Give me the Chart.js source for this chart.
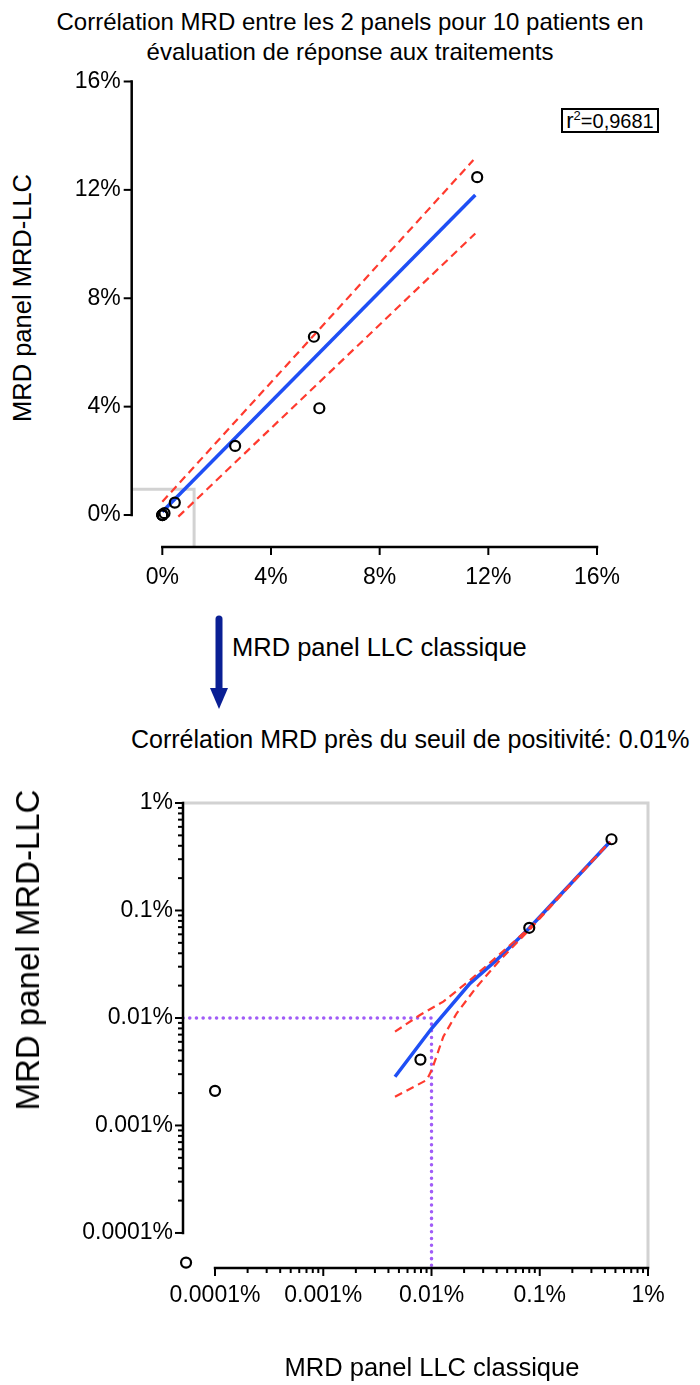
<!DOCTYPE html>
<html>
<head>
<meta charset="utf-8">
<script src="https://cdn.jsdelivr.net/npm/chart.js@4.4.1/dist/chart.umd.min.js"></script>
<style>
  body { margin: 0; background: #fff; width: 700px; height: 1385px; position: relative; overflow: hidden;
         font-family: "Liberation Sans", Arial, Helvetica, sans-serif; color: #000; }
  canvas { position: absolute; left: 0; }
  .txt { position: absolute; white-space: nowrap; }
  .vtitle { position: absolute; white-space: nowrap; font-size: 25.5px; transform: translate(-50%, -50%) rotate(-90deg); }
  #r2 { position: absolute; left: 561px; top: 108px; width: 98px; height: 25px; box-sizing: border-box;
        border: 2px solid #000; font-size: 20px; line-height: 21px; text-align: center; }
  #r2 .r { font-size: 22px; }
  #r2 sup { font-size: 13px; vertical-align: 8px; line-height: 0; }
</style>
</head>
<body>

<div class="txt" style="left:0;width:700px;top:7px;text-align:center;font-size:24px;line-height:30px">
  Corrélation MRD entre les 2 panels pour 10 patients en<br>évaluation de réponse aux traitements
</div>
<div class="vtitle" style="left:22px;top:298px">MRD panel MRD-LLC</div>
<div id="r2"><span class="r">r</span><sup>2</sup>=0,9681</div>

<canvas id="linChart" width="700" height="600" style="top:0"></canvas>

<svg class="txt" style="left:200px;top:610px" width="40" height="105">
  <line x1="19" y1="9" x2="19" y2="82" stroke="#0a1f94" stroke-width="7" stroke-linecap="round"/>
  <polygon points="10,78 28,78 19,99" fill="#0a1f94"/>
</svg>
<div class="txt" style="left:232px;top:632px;font-size:25.5px;line-height:30px">MRD panel LLC classique</div>
<div class="txt" style="left:131px;top:724px;font-size:25px;line-height:30px">Corrélation MRD près du seuil de positivité: 0.01%</div>

<canvas id="logChart" width="700" height="625" style="top:760px"></canvas>
<div class="vtitle" style="left:28px;top:950px;font-size:33px">MRD panel MRD-LLC</div>
<div class="txt" style="left:432px;top:1352px;font-size:25.5px;line-height:30px;transform:translateX(-50%)">MRD panel LLC classique</div>

<script>
// MRD (%) per patient, classic LLC panel (x) vs MRD-LLC panel (y)
const llcClassique = [11.59, 5.58, 5.78, 2.68, 0.46, 0.080, 0.0079, 0.0001, 0.000054, 0];
const llcMrd       = [12.47, 6.58, 3.94, 2.55, 0.46, 0.069, 0.0041, 0.0021, 0.000053, 0];

// linear regression + 95% band, linear panel
const fitX = [0, 11.52];
const fitY = [0.12, 11.81];
const bandHiX = [0, 11.45];
const bandHiY = [0.49, 13.1];
const bandLoX = [0.59, 11.52];
const bandLoY = [-0.06, 10.39];

// low-range fit and band on the log panel
const fitLogX = [0.0046, 0.01005, 0.0227, 0.040, 0.0802, 0.446];
const fitLogY = [0.00284, 0.00802, 0.0210, 0.0347, 0.0687, 0.436];
const bandLogHiX = [0.0046, 0.00783, 0.01285, 0.0227, 0.0372, 0.0802, 0.446];
const bandLogHiY = [0.00746, 0.01066, 0.01419, 0.02254, 0.0347, 0.0687, 0.436];
const bandLogLoX = [0.0046, 0.00904, 0.01005, 0.01285, 0.0171, 0.0262, 0.043, 0.0802, 0.446];
const bandLogLoY = [0.00185, 0.00265, 0.00328, 0.0067, 0.01106, 0.01954, 0.0347, 0.066, 0.436];

const positivityCut = 0.01;

const linTicks = [0, 4, 8, 12, 16];
const linTickLabels = ["0%", "4%", "8%", "12%", "16%"];
const logTicks = [0.0001, 0.001, 0.01, 0.1, 1];
const logTickLabels = ["0.0001%", "0.001%", "0.01%", "0.1%", "1%"];

// axis ranges (the axes are offset from the plot, Prism style)
const linXMin = -1.127, linYMin = -1.18, linMax = 16;
const logXMin = 5.06e-5, logYMin = 4.72e-5, logMax = 1;
const zoomCorner = [1.17, 0.95];

const BLUE = "#1f4ff5";
const RED = "#ff3a2e";
const FONT = "'Liberation Sans', Arial, Helvetica, sans-serif";

const pts = (xs, ys) => xs.map((x, i) => ({ x: x, y: ys[i] }));

const minorLog = [];
for (let d = 0.0001; d < 0.99; d *= 10) {
  for (let m = 2; m <= 9; m++) minorLog.push(d * m);
}

// draws the detached axis lines and their tick marks
const offsetAxes = {
  id: "offsetAxes",
  afterDatasetsDraw(chart, args, opts) {
    const { ctx, chartArea } = chart;
    const x = chart.scales.x, y = chart.scales.y;
    const left = chartArea.left, bottom = chartArea.bottom;
    ctx.save();
    ctx.strokeStyle = "#000";
    ctx.lineWidth = 2.5;
    ctx.lineCap = "butt";
    const seg = (x1, y1, x2, y2) => {
      ctx.beginPath(); ctx.moveTo(x1, y1); ctx.lineTo(x2, y2); ctx.stroke();
    };
    const yA = y.getPixelForValue(opts.major[0]);
    const yB = y.getPixelForValue(opts.major[opts.major.length - 1]);
    seg(left, yA + 1.25, left, yB - 1.25);
    const xA = x.getPixelForValue(opts.major[0]);
    const xB = x.getPixelForValue(opts.major[opts.major.length - 1]);
    seg(xA - 1.25, bottom, xB + 1.25, bottom);

    ctx.lineWidth = 2;
    opts.major.forEach(v => {
      const py = y.getPixelForValue(v), px = x.getPixelForValue(v);
      seg(left - opts.majorLen, py, left, py);
      seg(px, bottom, px, bottom + opts.majorLen);
    });
    (opts.minor || []).forEach(v => {
      const py = y.getPixelForValue(v), px = x.getPixelForValue(v);
      seg(left - opts.minorLen, py, left, py);
      seg(px, bottom, px, bottom + opts.minorLen);
    });
    ctx.restore();
  }
};

function tickAxis(type, min, max, ticks, labels, size, pad) {
  return {
    type: type,
    min: min,
    max: max,
    bounds: "data",
    grid: { display: false, drawTicks: false },
    border: { display: false },
    afterBuildTicks: s => { s.ticks = ticks.map(v => ({ value: v })); },
    afterFit: s => {
      if (s.isHorizontal()) s.height = size; else s.width = size;
      s.paddingTop = s.paddingBottom = s.paddingLeft = s.paddingRight = 0;
    },
    ticks: {
      color: "#000",
      font: { family: FONT, size: 23 },
      padding: pad,
      maxRotation: 0,
      autoSkip: false,
      callback: (v, i) => labels[i]
    }
  };
}

const circleStyle = {
  pointRadius: 5,
  pointHoverRadius: 5,
  pointBorderWidth: 2.2,
  pointBorderColor: "#000",
  pointBackgroundColor: "rgba(255,255,255,0)",
  showLine: false,
  clip: false
};
const lineStyle = (color, width, dash) => ({
  showLine: true,
  pointRadius: 0,
  borderColor: color,
  borderWidth: width,
  borderDash: dash,
  fill: false,
  clip: false
});

new Chart(document.getElementById("linChart"), {
  type: "scatter",
  data: {
    datasets: [
      Object.assign({ data: pts(llcClassique, llcMrd) }, circleStyle),
      Object.assign({ data: pts(bandHiX, bandHiY) }, lineStyle(RED, 2.2, [8, 5])),
      Object.assign({ data: pts(bandLoX, bandLoY) }, lineStyle(RED, 2.2, [8, 5])),
      Object.assign({ data: pts(fitX, fitY) }, lineStyle(BLUE, 3.5, [])),
      Object.assign({ data: pts([linXMin, zoomCorner[0], zoomCorner[0]], [zoomCorner[1], zoomCorner[1], linYMin]) },
        lineStyle("#d2d2d2", 3, []))
    ]
  },
  options: {
    responsive: false,
    animation: false,
    events: [],
    layout: { padding: { top: 81.5, right: 103, left: 0, bottom: 0 } },
    plugins: {
      legend: { display: false },
      tooltip: { enabled: false },
      offsetAxes: { major: linTicks, majorLen: 8 }
    },
    scales: {
      x: tickAxis("linear", linXMin, linMax, linTicks, linTickLabels, 53, 17),
      y: tickAxis("linear", linYMin, linMax, linTicks, linTickLabels, 131.7, 11)
    }
  },
  plugins: [offsetAxes]
});

new Chart(document.getElementById("logChart"), {
  type: "scatter",
  data: {
    datasets: [
      Object.assign({ data: pts(llcClassique, llcMrd).filter(p => p.x > 0 && p.x <= logMax) }, circleStyle),
      Object.assign({ data: pts(bandLogHiX, bandLogHiY) }, lineStyle(RED, 2.2, [8, 5])),
      Object.assign({ data: pts(bandLogLoX, bandLogLoY) }, lineStyle(RED, 2.2, [8, 5])),
      Object.assign({ data: pts(fitLogX, fitLogY) }, lineStyle(BLUE, 3.5, [])),
      Object.assign({ data: pts([logXMin, positivityCut, positivityCut], [positivityCut, positivityCut, logYMin]) },
        lineStyle("#a05cf7", 3.5, [0.1, 6.6]), { borderCapStyle: "round" }),
      Object.assign({ data: pts([logXMin, logMax, logMax], [logMax, logMax, logYMin]) },
        lineStyle("#d2d2d2", 3, []))
    ]
  },
  options: {
    responsive: false,
    animation: false,
    events: [],
    layout: { padding: { top: 43, right: 52, left: 0, bottom: 0 } },
    plugins: {
      legend: { display: false },
      tooltip: { enabled: false },
      offsetAxes: { major: logTicks, minor: minorLog, majorLen: 8, minorLen: 5 }
    },
    scales: {
      x: tickAxis("logarithmic", logXMin, logMax, logTicks, logTickLabels, 117, 14),
      y: tickAxis("logarithmic", logYMin, logMax, logTicks, logTickLabels, 183, 10)
    }
  },
  plugins: [offsetAxes]
});
</script>
</body>
</html>
